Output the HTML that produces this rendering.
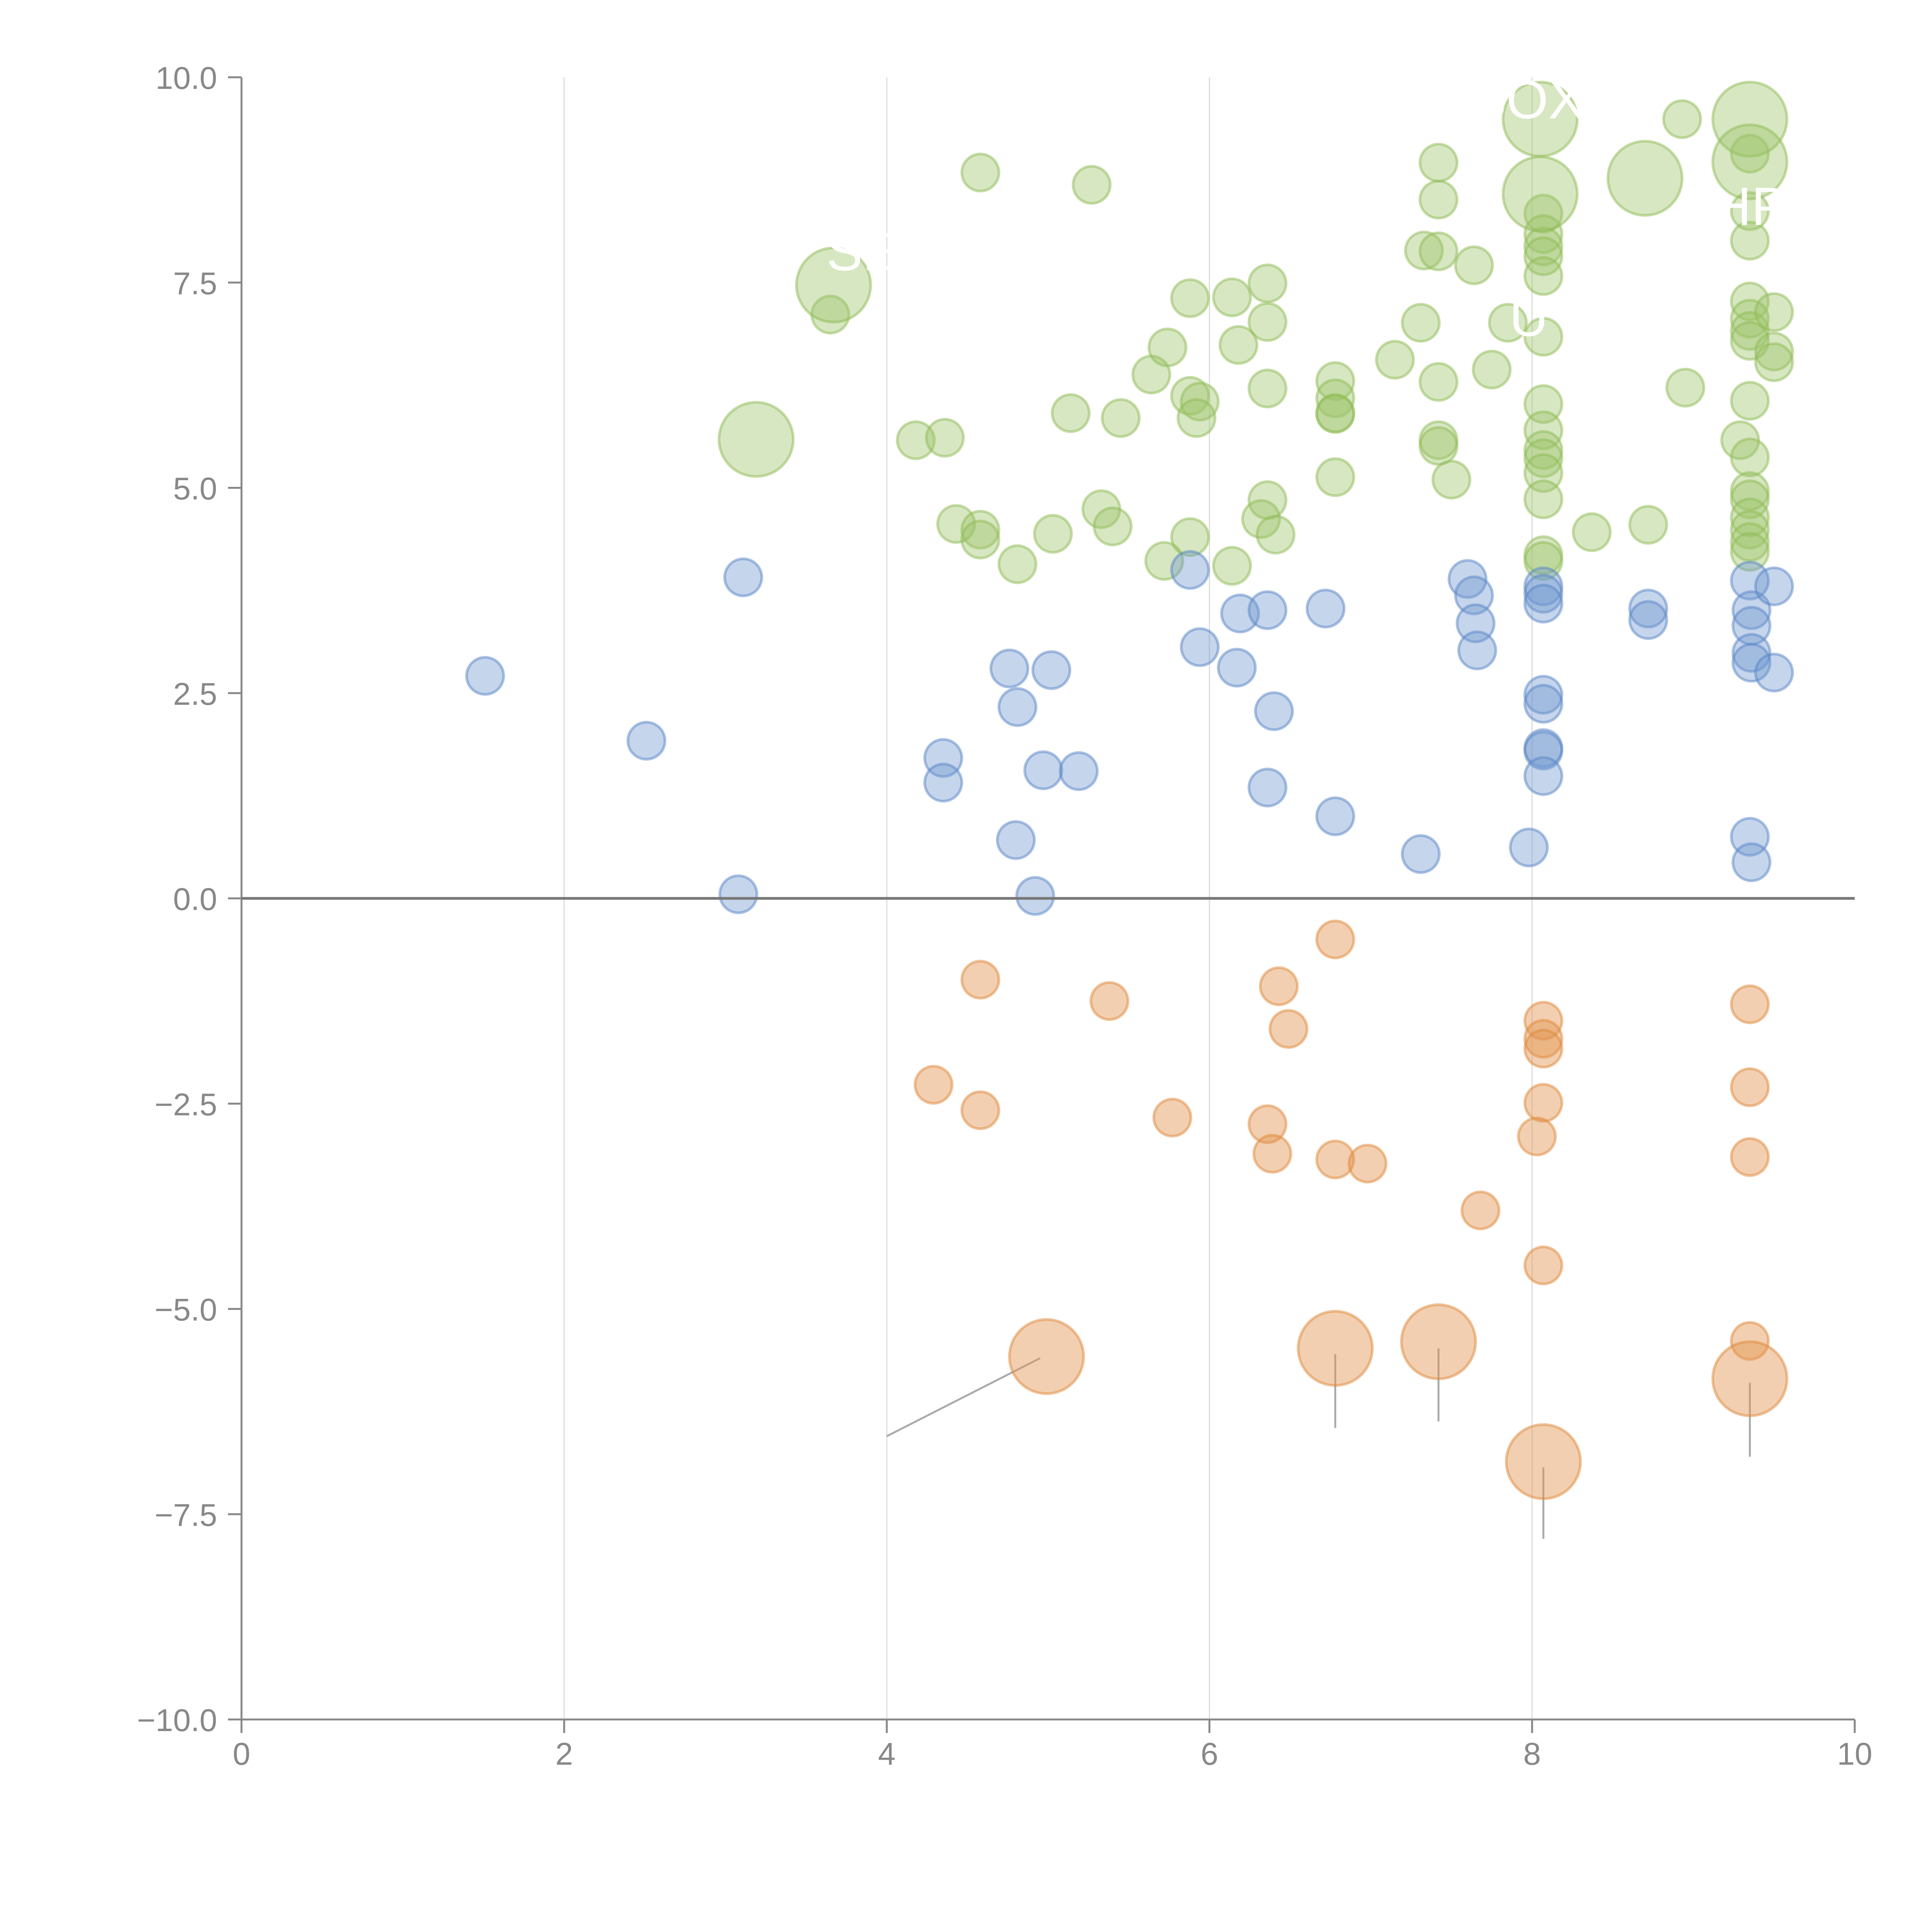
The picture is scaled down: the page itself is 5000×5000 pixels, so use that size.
<!DOCTYPE html>
<html><head><meta charset="utf-8"><style>
html,body{margin:0;padding:0;background:#fff;}
svg{display:block;font-family:"Liberation Sans",Arial,sans-serif;}
</style></head><body>
<svg id="chart" width="5000" height="5000" viewBox="0 0 5000 5000" xmlns="http://www.w3.org/2000/svg">
<g id="grid"></g>
<g id="conn"></g>
<g id="marks"></g>
<g id="ann"></g>
<g id="axes"></g>
</svg>
<script>
const xTicks=[0,2,4,6,8,10];
const yTicks=[-10,-7.5,-5,-2.5,0,2.5,5,7.5,10];
const blueX=[1.51,2.51,3.11,3.08,4.35,4.35,4.76,4.81,5.02,4.97,5.19,4.80,4.92,5.88,5.94,6.19,6.17,6.36,6.40,6.36,6.72,6.78,7.31,7.60,7.64,7.65,7.66,7.98,8.07,8.07,8.07,8.07,8.07,8.07,8.07,8.07,8.72,8.72,9.35,9.36,9.36,9.36,9.36,9.50,9.50,9.35,9.36];
const blueY=[2.71,1.92,3.91,0.05,1.71,1.41,2.80,2.33,2.78,1.56,1.55,0.71,0.03,4.00,3.06,3.47,2.81,3.51,2.28,1.35,3.53,1.00,0.54,3.89,3.69,3.35,3.02,0.62,3.80,3.71,3.59,2.48,2.37,1.83,1.80,1.49,3.53,3.39,3.87,3.51,3.32,2.99,2.87,3.80,2.75,0.75,0.44];
const orangeX=[6.78,4.58,5.38,6.43,6.49,4.29,4.58,5.77,6.36,6.39,6.78,6.98,7.68,8.07,8.07,8.07,8.07,8.03,8.07,9.35,9.35,9.35,9.35,4.99,6.78,7.42,9.35,8.07];
const orangeY=[-0.50,-0.99,-1.25,-1.07,-1.59,-2.27,-2.58,-2.67,-2.75,-3.11,-3.18,-3.23,-3.80,-1.49,-1.71,-1.83,-2.49,-2.90,-4.47,-1.29,-2.30,-3.15,-5.39,-5.58,-5.48,-5.40,-5.85,-6.86];
const orangeS=[1,1,1,1,1,1,1,1,1,1,1,1,1,1,1,1,1,1,1,1,1,1,1,2,2,2,2,2];
const greenX=[4.58,5.27,3.65,4.18,4.36,4.43,4.58,4.58,4.81,5.03,5.14,5.33,5.40,5.45,5.64,5.72,5.74,5.88,5.88,5.94,5.92,5.88,6.14,6.18,6.14,6.36,6.36,6.36,6.36,6.32,6.41,6.78,6.78,6.78,6.78,6.78,7.15,7.31,7.33,7.42,7.42,7.42,7.42,7.42,7.42,7.50,7.64,7.75,7.85,8.07,8.07,8.07,8.07,8.07,8.07,8.07,8.07,8.07,8.07,8.07,8.07,8.07,8.07,8.37,8.72,8.93,8.95,9.29,9.35,9.35,9.35,9.35,9.35,9.35,9.35,9.35,9.35,9.35,9.35,9.35,9.35,9.35,9.35,9.50,9.50,9.50,3.67,3.19,8.05,8.05,8.70,9.35,9.35];
const greenY=[8.84,8.69,7.11,5.58,5.61,4.56,4.49,4.37,4.07,4.44,5.91,4.74,4.53,5.85,6.38,4.11,6.71,7.31,6.12,6.05,5.85,4.40,7.32,6.74,4.05,7.49,7.02,6.21,4.85,4.62,4.43,6.30,6.09,5.91,5.90,5.13,6.56,7.01,7.89,8.96,8.51,7.88,6.29,5.58,5.51,5.10,7.71,6.44,7.01,8.34,8.09,7.94,7.82,7.58,6.84,6.02,5.70,5.46,5.36,5.18,4.86,4.18,4.11,4.46,4.55,9.49,6.22,5.58,9.07,8.37,8.01,7.27,7.06,6.91,6.79,6.06,5.37,4.96,4.86,4.64,4.49,4.34,4.22,7.14,6.66,6.53,7.47,5.59,9.49,8.58,8.77,9.49,8.97];
const greenS=greenX.map((v,i)=>i>=86?2:1);
const labelText=["SOX","HP","U","SE","y"];
const labelX=[7.97,9.35,7.98,3.85,3.05];
const labelY=[9.5,8.2,6.85,7.65,6.05];
const connX1=[4.0,6.78,7.42,9.35,8.07];
const connY1=[-6.55,-5.55,-5.48,-5.9,-6.93];
const connX2=[4.95,6.78,7.42,9.35,8.07];
const connY2=[-5.6,-6.45,-6.37,-6.8,-7.8];

const X0=625,X1=4800,Y0=4450,Y1=200;
const sx=v=>X0+(v-0)/(10-0)*(X1-X0);
const sy=v=>Y0-(v+10)/20*(Y0-Y1);
const NS="http://www.w3.org/2000/svg";
function mk(tag,parent,attrs){const e=document.createElementNS(NS,tag);for(const k in attrs)e.setAttribute(k,attrs[k]);parent.appendChild(e);return e;}
const grid=document.getElementById('grid'),axes=document.getElementById('axes'),marks=document.getElementById('marks'),ann=document.getElementById('ann'),conn=document.getElementById('conn');

xTicks.forEach(t=>{
  if(t>0&&t<10){const g=mk('line',grid,{x1:sx(t),x2:sx(t),y1:Y1,y2:Y0,stroke:'#dcdcdc','stroke-width':3});
  
  }
  const tk=mk('line',axes,{x1:sx(t),x2:sx(t),y1:Y0,y2:Y0+35,stroke:'#888','stroke-width':5});
  
  
  const tx=mk('text',axes,{x:sx(t),y:Y0+117,'text-anchor':'middle','font-size':82,fill:'#888'});
  tx.textContent=String(t);
  
  
});
yTicks.forEach(t=>{
  const tk=mk('line',axes,{x1:X0-35,x2:X0,y1:sy(t),y2:sy(t),stroke:'#888','stroke-width':5});
  
  
  const tx=mk('text',axes,{x:X0-63,y:sy(t)+30,'text-anchor':'end','font-size':82,fill:'#888'});
  tx.textContent=(t<0?'\u2212':'')+Math.abs(t).toFixed(1);
  
  
});
const ya=mk('line',axes,{x1:X0,x2:X0,y1:Y1,y2:Y0,stroke:'#888','stroke-width':5});


const xa=mk('line',axes,{x1:X0,x2:X1,y1:Y0,y2:Y0,stroke:'#888','stroke-width':5});


const zl=mk('line',axes,{x1:X0,x2:X1,y1:sy(0),y2:sy(0),stroke:'#777','stroke-width':7});



connX1.forEach((v,i)=>{
  const l=mk('line',conn,{x1:sx(v),y1:sy(connY1[i]),x2:sx(connX2[i]),y2:sy(connY2[i]),stroke:'#aaa','stroke-width':5});
  
  
});

function series(xs,ys,ss,fill,stroke,fo,name){
  xs.forEach((v,i)=>{
    const r=(ss?ss[i]:1)*48;
    const c=mk('circle',marks,{cx:sx(v),cy:sy(ys[i]),r:r,fill:fill,'fill-opacity':fo,stroke:stroke,'stroke-opacity':0.5,'stroke-width':7});
    
    
  });
}
series(greenX,greenY,greenS,'#9cc266','#8fbb55',0.4,'green-bubble');
series(blueX,blueY,null,'#6f95cf','#5a85c6',0.4,'blue-bubble');
series(orangeX,orangeY,orangeS,'#e39550','#e08a3c',0.45,'orange-bubble');

labelText.forEach((t,i)=>{
  const tx=mk('text',ann,{x:sx(labelX[i]),y:sy(labelY[i]),'text-anchor':'middle','font-size':140,fill:'#fff'});
  tx.textContent=t;
  
  
});
</script>
</body></html>
